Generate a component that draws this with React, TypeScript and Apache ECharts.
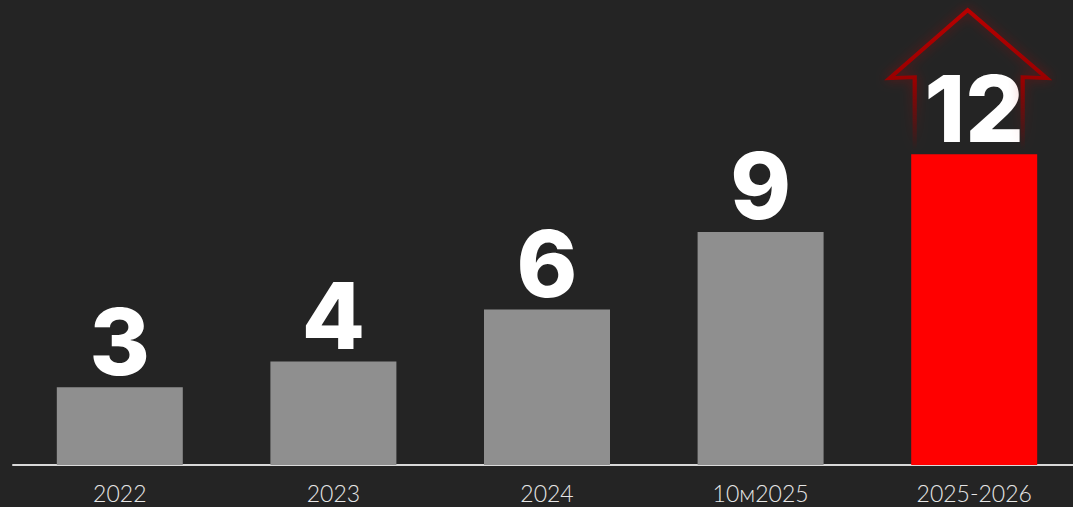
import React, { useEffect, useRef } from "react";
import * as echarts from "echarts";

const categories = ["2022", "2023", "2024", "10м2025", "2025-2026"];
const values = [3, 4, 6, 9, 12];
const highlightIndex = 4;

const BG = "#242424";
const GREY = "#8f8f8f";
const RED = "#ff0000";

export default function App() {
  const ref = useRef<HTMLDivElement>(null);
  useEffect(() => {
    document.body.style.margin = "0";
    document.body.style.background = BG;
    document.body.style.overflow = "hidden";
    const chart = echarts.init(ref.current!, undefined, { renderer: "svg" });
    const arrowPath =
      "path://M25,140 L25,67 L0,68 L78,0 L157,68 L133,67 L133,140";
    chart.setOption({
      animation: false,
      backgroundColor: BG,
      grid: { left: 13, right: 0, top: 50.6, bottom: 42, containLabel: false },
      xAxis: {
        type: "category",
        data: categories,
        axisLine: { show: true, lineStyle: { color: "#d9d9d9", width: 2 } },
        axisTick: { show: false },
        axisLabel: {
          color: "#e6e6e6",
          fontFamily: "Lato",
          fontWeight: 300,
          fontSize: 23,
          margin: 16,
        },
      },
      yAxis: {
        type: "value",
        min: 0,
        max: 16,
        show: false,
        splitLine: { show: false },
      },
      series: [
        {
          type: "bar",
          barWidth: 126,
          data: values.map((v, i) => ({
            value: v,
            itemStyle: { color: i === highlightIndex ? RED : GREY },
          })),
          label: {
            show: true,
            position: "top",
            distance: 0,
            color: "#ffffff",
            fontFamily: "Inter",
            fontWeight: 800,
            fontSize: 92,
            lineHeight: 92,
          },
          markPoint: {
            silent: true,
            symbol: arrowPath,
            symbolSize: [157, 140],
            symbolOffset: [-6, -74],
            label: { show: false },
            itemStyle: {
              color: "rgba(0,0,0,0)",
              borderWidth: 4,
              borderColor: new echarts.graphic.LinearGradient(0, 0, 0, 1, [
                { offset: 0, color: "#b80000" },
                { offset: 0.5, color: "#990000" },
                { offset: 1, color: "rgba(130,0,0,0)" },
              ]),
              shadowBlur: 12,
              shadowColor: "rgba(200,0,0,0.45)",
            },
            data: [{ coord: [categories[highlightIndex], values[highlightIndex]] }],
          },
        },
      ],
    });
    return () => chart.dispose();
  }, []);
  return (
    <div
      ref={ref}
      style={{ position: "fixed", left: 0, top: 0, width: 1081, height: 507 }}
    />
  );
}
